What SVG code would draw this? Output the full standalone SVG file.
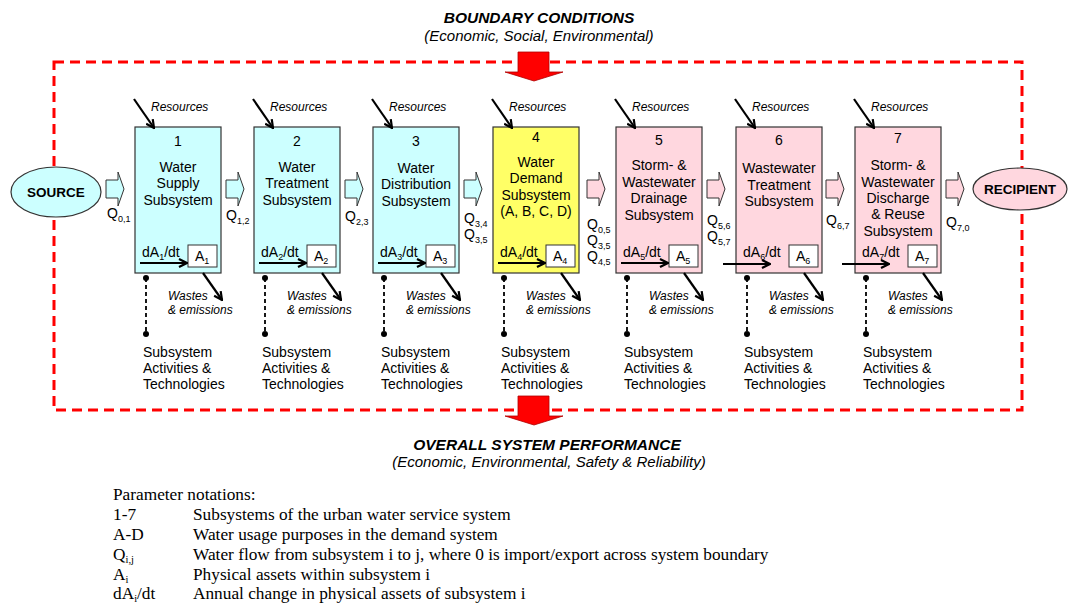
<svg xmlns="http://www.w3.org/2000/svg" width="1069" height="606" viewBox="0 0 1069 606">
<defs>
<style>
text{font-family:"Liberation Sans",Arial,sans-serif;fill:#000}
.t{font-size:14px;text-anchor:middle}
.l{font-size:14px}
.i{font-size:12px;font-style:italic}
.sub{font-size:9px}
.hd{font-size:15.5px;font-weight:bold;font-style:italic;text-anchor:middle}
.hs{font-size:15px;font-style:italic;text-anchor:middle}
.lg{font-family:"Liberation Serif","Times New Roman",serif;font-size:17.3px}
.lgs{font-size:10.5px}
.box{stroke:#333;stroke-width:1.2}
.cy{fill:#CCFFFF}
.ye{fill:#FFFF66}
.pk{fill:#FFD7DF}
.ab{fill:#fff;stroke:#333;stroke-width:1}
.ar{stroke:#000;stroke-width:2.2;fill:none;marker-end:url(#ah)}
.dl{stroke:#000;stroke-width:1.8;stroke-dasharray:4 3}
.ba{stroke:#333;stroke-width:1}
</style>
<marker id="ah" viewBox="0 0 10 10" refX="9" refY="5" markerWidth="10" markerHeight="10" markerUnits="userSpaceOnUse" orient="auto">
<path d="M1,1 L9,5 L1,9" fill="none" stroke="#000" stroke-width="2.2"/>
</marker>
<path id="blk" d="M0,8 H12 V0 L18,17 L12,34 V26 H0 Z"/>
</defs>

<g id="titles">
<text class="hd" x="539" y="23">BOUNDARY CONDITIONS</text>
<text class="hs" x="539" y="41">(Economic, Social, Environmental)</text>
<text class="hd" x="547" y="450">OVERALL SYSTEM PERFORMANCE</text>
<text class="hs" x="549" y="467">(Economic, Environmental, Safety &amp; Reliability)</text>
</g>

<g id="boundary">
<rect x="54" y="62" width="968" height="348" fill="none" stroke="#FF0000" stroke-width="3" stroke-dasharray="10 6"/>
<path d="M518,52 H549 V72 H563 L534,81 L505,72 H518 Z" fill="#FF0000" stroke="#B00000" stroke-width="0.8"/>
<path d="M518,396 H549 V416 H563 L534,425 L505,416 H518 Z" fill="#FF0000" stroke="#B00000" stroke-width="0.8"/>
</g>

<g id="source">
<ellipse cx="56" cy="192" rx="45" ry="25" fill="#CCFFFF" stroke="#333" stroke-width="1.2"/>
<text x="56" y="197" style="font-size:13.5px;font-weight:bold;text-anchor:middle">SOURCE</text>
</g>
<g id="recipient">
<ellipse cx="1020" cy="189" rx="47" ry="21" fill="#FFD7DF" stroke="#333" stroke-width="1.2"/>
<text x="1020" y="194" style="font-size:13.5px;font-weight:bold;text-anchor:middle">RECIPIENT</text>
</g>

<g id="sub1">
<rect class="box cy" x="135" y="127" width="86" height="146"/>
<text class="t" x="178" y="146">1</text>
<text class="t" x="178" y="172">Water</text><text class="t" x="178" y="188">Supply</text><text class="t" x="178" y="205">Subsystem</text>
<rect class="ab" x="188" y="245" width="29" height="22"/>
<text class="l" x="195" y="261">A<tspan class="sub" dy="3">1</tspan></text>
<text class="l" x="142" y="257">dA<tspan class="sub" dy="3">1</tspan><tspan dy="-3">/dt</tspan></text>
<text class="i" x="151" y="111">Resources</text>
<text class="i" x="168" y="300">Wastes</text><text class="i" x="168" y="314">&amp; emissions</text>
<text class="l" x="143" y="357">Subsystem</text><text class="l" x="143" y="373">Activities &amp;</text><text class="l" x="143" y="389">Technologies</text>
</g>

<g id="sub2">
<rect class="box cy" x="254" y="127" width="86" height="146"/>
<text class="t" x="297" y="146">2</text>
<text class="t" x="297" y="172">Water</text><text class="t" x="297" y="188">Treatment</text><text class="t" x="297" y="205">Subsystem</text>
<rect class="ab" x="307" y="245" width="29" height="22"/>
<text class="l" x="314" y="261">A<tspan class="sub" dy="3">2</tspan></text>
<text class="l" x="261" y="257">dA<tspan class="sub" dy="3">2</tspan><tspan dy="-3">/dt</tspan></text>
<text class="i" x="270" y="111">Resources</text>
<text class="i" x="287" y="300">Wastes</text><text class="i" x="287" y="314">&amp; emissions</text>
<text class="l" x="262" y="357">Subsystem</text><text class="l" x="262" y="373">Activities &amp;</text><text class="l" x="262" y="389">Technologies</text>
</g>

<g id="sub3">
<rect class="box cy" x="373" y="127" width="86" height="146"/>
<text class="t" x="416" y="146">3</text>
<text class="t" x="416" y="173">Water</text><text class="t" x="416" y="189">Distribution</text><text class="t" x="416" y="206">Subsystem</text>
<rect class="ab" x="426" y="245" width="29" height="22"/>
<text class="l" x="433" y="261">A<tspan class="sub" dy="3">3</tspan></text>
<text class="l" x="380" y="257">dA<tspan class="sub" dy="3">3</tspan><tspan dy="-3">/dt</tspan></text>
<text class="i" x="389" y="111">Resources</text>
<text class="i" x="406" y="300">Wastes</text><text class="i" x="406" y="314">&amp; emissions</text>
<text class="l" x="381" y="357">Subsystem</text><text class="l" x="381" y="373">Activities &amp;</text><text class="l" x="381" y="389">Technologies</text>
</g>

<g id="sub4">
<rect class="box ye" x="493" y="127" width="86" height="146"/>
<text class="t" x="536" y="142">4</text>
<text class="t" x="536" y="167">Water</text><text class="t" x="536" y="183">Demand</text><text class="t" x="536" y="200">Subsystem</text><text class="t" x="536" y="216">(A, B, C, D)</text>
<rect class="ab" x="546" y="245" width="29" height="22"/>
<text class="l" x="553" y="261">A<tspan class="sub" dy="3">4</tspan></text>
<text class="l" x="500" y="257">dA<tspan class="sub" dy="3">4</tspan><tspan dy="-3">/dt</tspan></text>
<text class="i" x="509" y="111">Resources</text>
<text class="i" x="526" y="300">Wastes</text><text class="i" x="526" y="314">&amp; emissions</text>
<text class="l" x="501" y="357">Subsystem</text><text class="l" x="501" y="373">Activities &amp;</text><text class="l" x="501" y="389">Technologies</text>
</g>

<g id="sub5">
<rect class="box pk" x="616" y="127" width="86" height="146"/>
<text class="t" x="659" y="145">5</text>
<text class="t" x="659" y="170">Storm- &amp;</text><text class="t" x="659" y="187">Wastewater</text><text class="t" x="659" y="203">Drainage</text><text class="t" x="659" y="220">Subsystem</text>
<rect class="ab" x="669" y="245" width="29" height="22"/>
<text class="l" x="676" y="261">A<tspan class="sub" dy="3">5</tspan></text>
<text class="l" x="623" y="257">dA<tspan class="sub" dy="3">5</tspan><tspan dy="-3">/dt</tspan></text>
<text class="i" x="632" y="111">Resources</text>
<text class="i" x="649" y="300">Wastes</text><text class="i" x="649" y="314">&amp; emissions</text>
<text class="l" x="624" y="357">Subsystem</text><text class="l" x="624" y="373">Activities &amp;</text><text class="l" x="624" y="389">Technologies</text>
</g>

<g id="sub6">
<rect class="box pk" x="736" y="127" width="86" height="146"/>
<text class="t" x="779" y="145">6</text>
<text class="t" x="779" y="173">Wastewater</text><text class="t" x="779" y="190">Treatment</text><text class="t" x="779" y="206">Subsystem</text>
<rect class="ab" x="789" y="245" width="29" height="22"/>
<text class="l" x="796" y="261">A<tspan class="sub" dy="3">6</tspan></text>
<text class="l" x="743" y="257">dA<tspan class="sub" dy="3">6</tspan><tspan dy="-3">/dt</tspan></text>
<text class="i" x="752" y="111">Resources</text>
<text class="i" x="769" y="300">Wastes</text><text class="i" x="769" y="314">&amp; emissions</text>
<text class="l" x="744" y="357">Subsystem</text><text class="l" x="744" y="373">Activities &amp;</text><text class="l" x="744" y="389">Technologies</text>
</g>

<g id="sub7">
<rect class="box pk" x="855" y="127" width="86" height="146"/>
<text class="t" x="898" y="143">7</text>
<text class="t" x="898" y="170">Storm- &amp;</text><text class="t" x="898" y="187">Wastewater</text><text class="t" x="898" y="203">Discharge</text><text class="t" x="898" y="219">&amp; Reuse</text><text class="t" x="898" y="236">Subsystem</text>
<rect class="ab" x="908" y="245" width="29" height="22"/>
<text class="l" x="915" y="261">A<tspan class="sub" dy="3">7</tspan></text>
<text class="l" x="862" y="257">dA<tspan class="sub" dy="3">7</tspan><tspan dy="-3">/dt</tspan></text>
<text class="i" x="871" y="111">Resources</text>
<text class="i" x="888" y="300">Wastes</text><text class="i" x="888" y="314">&amp; emissions</text>
<text class="l" x="863" y="357">Subsystem</text><text class="l" x="863" y="373">Activities &amp;</text><text class="l" x="863" y="389">Technologies</text>
</g>

<g id="flows">
<use href="#blk" x="106" y="172" class="cy ba"/>
<use href="#blk" x="226" y="172" class="cy ba"/>
<use href="#blk" x="345" y="172" class="cy ba"/>
<use href="#blk" x="464" y="172" class="cy ba"/>
<use href="#blk" x="587" y="172" class="pk ba"/>
<use href="#blk" x="707" y="172" class="pk ba"/>
<use href="#blk" x="826" y="172" class="pk ba"/>
<use href="#blk" x="946" y="172" class="pk ba"/>
<text class="l" x="107" y="218">Q<tspan class="sub" dy="4">0,1</tspan></text>
<text class="l" x="226" y="220">Q<tspan class="sub" dy="4">1,2</tspan></text>
<text class="l" x="345" y="221">Q<tspan class="sub" dy="4">2,3</tspan></text>
<text class="l" x="464" y="223">Q<tspan class="sub" dy="4">3,4</tspan></text>
<text class="l" x="464" y="239">Q<tspan class="sub" dy="4">3,5</tspan></text>
<text class="l" x="587" y="229">Q<tspan class="sub" dy="4">0,5</tspan></text>
<text class="l" x="587" y="245">Q<tspan class="sub" dy="4">3,5</tspan></text>
<text class="l" x="587" y="261">Q<tspan class="sub" dy="4">4,5</tspan></text>
<text class="l" x="707" y="225">Q<tspan class="sub" dy="4">5,6</tspan></text>
<text class="l" x="707" y="241">Q<tspan class="sub" dy="4">5,7</tspan></text>
<text class="l" x="826" y="225">Q<tspan class="sub" dy="4">6,7</tspan></text>
<text class="l" x="946" y="227">Q<tspan class="sub" dy="4">7,0</tspan></text>
</g>

<g id="connectors">
<line class="ar" x1="134" y1="99" x2="154" y2="128"/>
<line class="ar" x1="253" y1="99" x2="273" y2="128"/>
<line class="ar" x1="372" y1="99" x2="392" y2="128"/>
<line class="ar" x1="492" y1="99" x2="512" y2="128"/>
<line class="ar" x1="615" y1="99" x2="635" y2="128"/>
<line class="ar" x1="735" y1="99" x2="755" y2="128"/>
<line class="ar" x1="854" y1="99" x2="874" y2="128"/>
<line class="ar" x1="203" y1="273" x2="222" y2="300"/>
<line class="ar" x1="322" y1="273" x2="341" y2="300"/>
<line class="ar" x1="441" y1="273" x2="460" y2="300"/>
<line class="ar" x1="561" y1="273" x2="580" y2="300"/>
<line class="ar" x1="684" y1="273" x2="703" y2="300"/>
<line class="ar" x1="804" y1="273" x2="823" y2="300"/>
<line class="ar" x1="923" y1="273" x2="942" y2="300"/>
<line class="ar" x1="140" y1="263" x2="187" y2="263"/>
<line class="ar" x1="259" y1="263" x2="306" y2="263"/>
<line class="ar" x1="378" y1="263" x2="425" y2="263"/>
<line class="ar" x1="498" y1="263" x2="545" y2="263"/>
<line class="ar" x1="621" y1="263" x2="668" y2="263"/>
<line class="ar" x1="723" y1="264" x2="770" y2="264"/>
<line class="ar" x1="842" y1="264" x2="889" y2="264"/>
<g fill="#000">
<line class="dl" x1="146" y1="278" x2="146" y2="334"/><circle cx="146" cy="278" r="3"/><circle cx="146" cy="334" r="3"/>
<line class="dl" x1="265" y1="278" x2="265" y2="334"/><circle cx="265" cy="278" r="3"/><circle cx="265" cy="334" r="3"/>
<line class="dl" x1="384" y1="278" x2="384" y2="334"/><circle cx="384" cy="278" r="3"/><circle cx="384" cy="334" r="3"/>
<line class="dl" x1="504" y1="278" x2="504" y2="334"/><circle cx="504" cy="278" r="3"/><circle cx="504" cy="334" r="3"/>
<line class="dl" x1="627" y1="278" x2="627" y2="334"/><circle cx="627" cy="278" r="3"/><circle cx="627" cy="334" r="3"/>
<line class="dl" x1="747" y1="278" x2="747" y2="334"/><circle cx="747" cy="278" r="3"/><circle cx="747" cy="334" r="3"/>
<line class="dl" x1="866" y1="278" x2="866" y2="334"/><circle cx="866" cy="278" r="3"/><circle cx="866" cy="334" r="3"/>
</g>
</g>

<g id="legend">
<text class="lg" x="113" y="500">Parameter notations:</text>
<text class="lg" x="113" y="520">1-7</text><text class="lg" x="193" y="520">Subsystems of the urban water service system</text>
<text class="lg" x="113" y="540">A-D</text><text class="lg" x="193" y="540">Water usage purposes in the demand system</text>
<text class="lg" x="113" y="560">Q<tspan class="lgs" dy="3">i,j</tspan></text><text class="lg" x="193" y="560">Water flow from subsystem i to j, where 0 is import/export across system boundary</text>
<text class="lg" x="113" y="580">A<tspan class="lgs" dy="3">i</tspan></text><text class="lg" x="193" y="580">Physical assets within subsystem i</text>
<text class="lg" x="113" y="599">dA<tspan class="lgs" dy="3">i</tspan><tspan dy="-3">/dt</tspan></text><text class="lg" x="193" y="599">Annual change in physical assets of subsystem i</text>
</g>
</svg>
